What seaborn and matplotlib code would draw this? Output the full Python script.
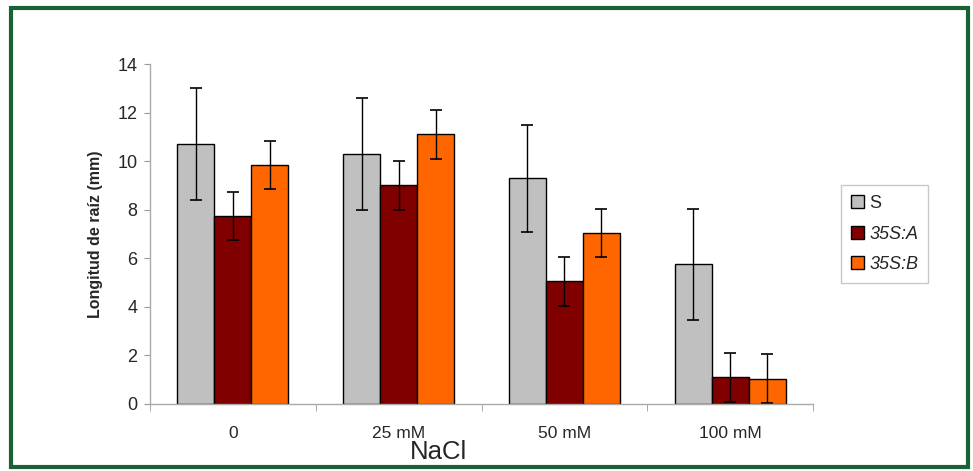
import numpy as np
import pandas as pd
import matplotlib
matplotlib.use("Agg")
import matplotlib.pyplot as plt
from matplotlib.patches import Rectangle
from matplotlib.ticker import FixedLocator
import seaborn as sns

categories = ["0", "25 mM", "50 mM", "100 mM"]
series = ["S", "35S:A", "35S:B"]
s_vals = [10.7, 10.3, 9.3, 5.75]
a_vals = [7.75, 9.0, 5.05, 1.1]
b_vals = [9.85, 11.1, 7.05, 1.05]
s_err = [2.3, 2.3, 2.2, 2.3]
a_err = [1.0, 1.0, 1.0, 1.0]
b_err = [1.0, 1.0, 1.0, 1.0]
colors = ["#C0C0C0", "#800000", "#FF6600"]

df = pd.DataFrame({
    "cat": categories * 3,
    "series": [s for s in series for _ in categories],
    "val": s_vals + a_vals + b_vals,
})
errs = [s_err, a_err, b_err]

sns.set_style("white")
plt.rcParams["font.family"] = ["Liberation Sans", "DejaVu Sans"]

fig = plt.figure(figsize=(9.73, 4.71), dpi=100)
ax = fig.add_axes([150/973, 1-404/471, (813-150)/973, (404-64)/471])

sns.barplot(data=df, x="cat", y="val", hue="series", order=categories,
            hue_order=series, palette=colors, width=0.67, errorbar=None,
            edgecolor="black", linewidth=1.0, saturation=1, ax=ax)

for cont, e in zip(ax.containers, errs):
    xs = [p.get_x() + p.get_width()/2 for p in cont]
    hs = [p.get_height() for p in cont]
    ax.errorbar(xs, hs, yerr=e, fmt="none", ecolor="black", elinewidth=1.0,
                capsize=4, capthick=1.2)

ax.set_xlim(-0.5, 3.5)
ax.set_ylim(0, 14)
ax.set_yticks(range(0, 15, 2))
ax.tick_params(axis="y", labelsize=13, length=4, color="#999999", direction="out", pad=5, left=True)
ax.tick_params(axis="x", which="major", length=0, labelsize=12.5, pad=16)
ax.xaxis.set_minor_locator(FixedLocator([-0.5, 0.5, 1.5, 2.5, 3.5]))
ax.tick_params(axis="x", which="minor", length=5, color="#999999", direction="out", bottom=True)
for side in ["top", "right"]:
    ax.spines[side].set_visible(False)
for side in ["left", "bottom"]:
    ax.spines[side].set_color("#AAAAAA")
    ax.spines[side].set_linewidth(1.0)

ax.set_xlabel("")
ax.set_ylabel("Longitud de raíz (mm)", fontsize=11.5, fontweight="bold", labelpad=10)
fig.text(438/973, 1-452/471, "NaCl", fontsize=18.5, ha="center", va="center")

handles, labels = ax.get_legend_handles_labels()
leg = fig.legend(handles, labels, loc="center", bbox_to_anchor=(884.5/973, 1-234/471),
                 frameon=True, fancybox=False, edgecolor="#BBBBBB", fontsize=13,
                 handlelength=0.75, handleheight=0.75, handletextpad=0.3,
                 borderpad=0.55, labelspacing=0.75, borderaxespad=0)
leg.get_frame().set_linewidth(1.0)
for t in leg.get_texts()[1:]:
    t.set_fontstyle("italic")
if ax.get_legend():
    ax.get_legend().remove()

fig.patches.append(Rectangle((11/973, 1-467/471), (968-11)/973, (467-8)/471,
                             transform=fig.transFigure, fill=False,
                             edgecolor="#1A6236", linewidth=3))

fig.savefig("out.png", dpi=100)
